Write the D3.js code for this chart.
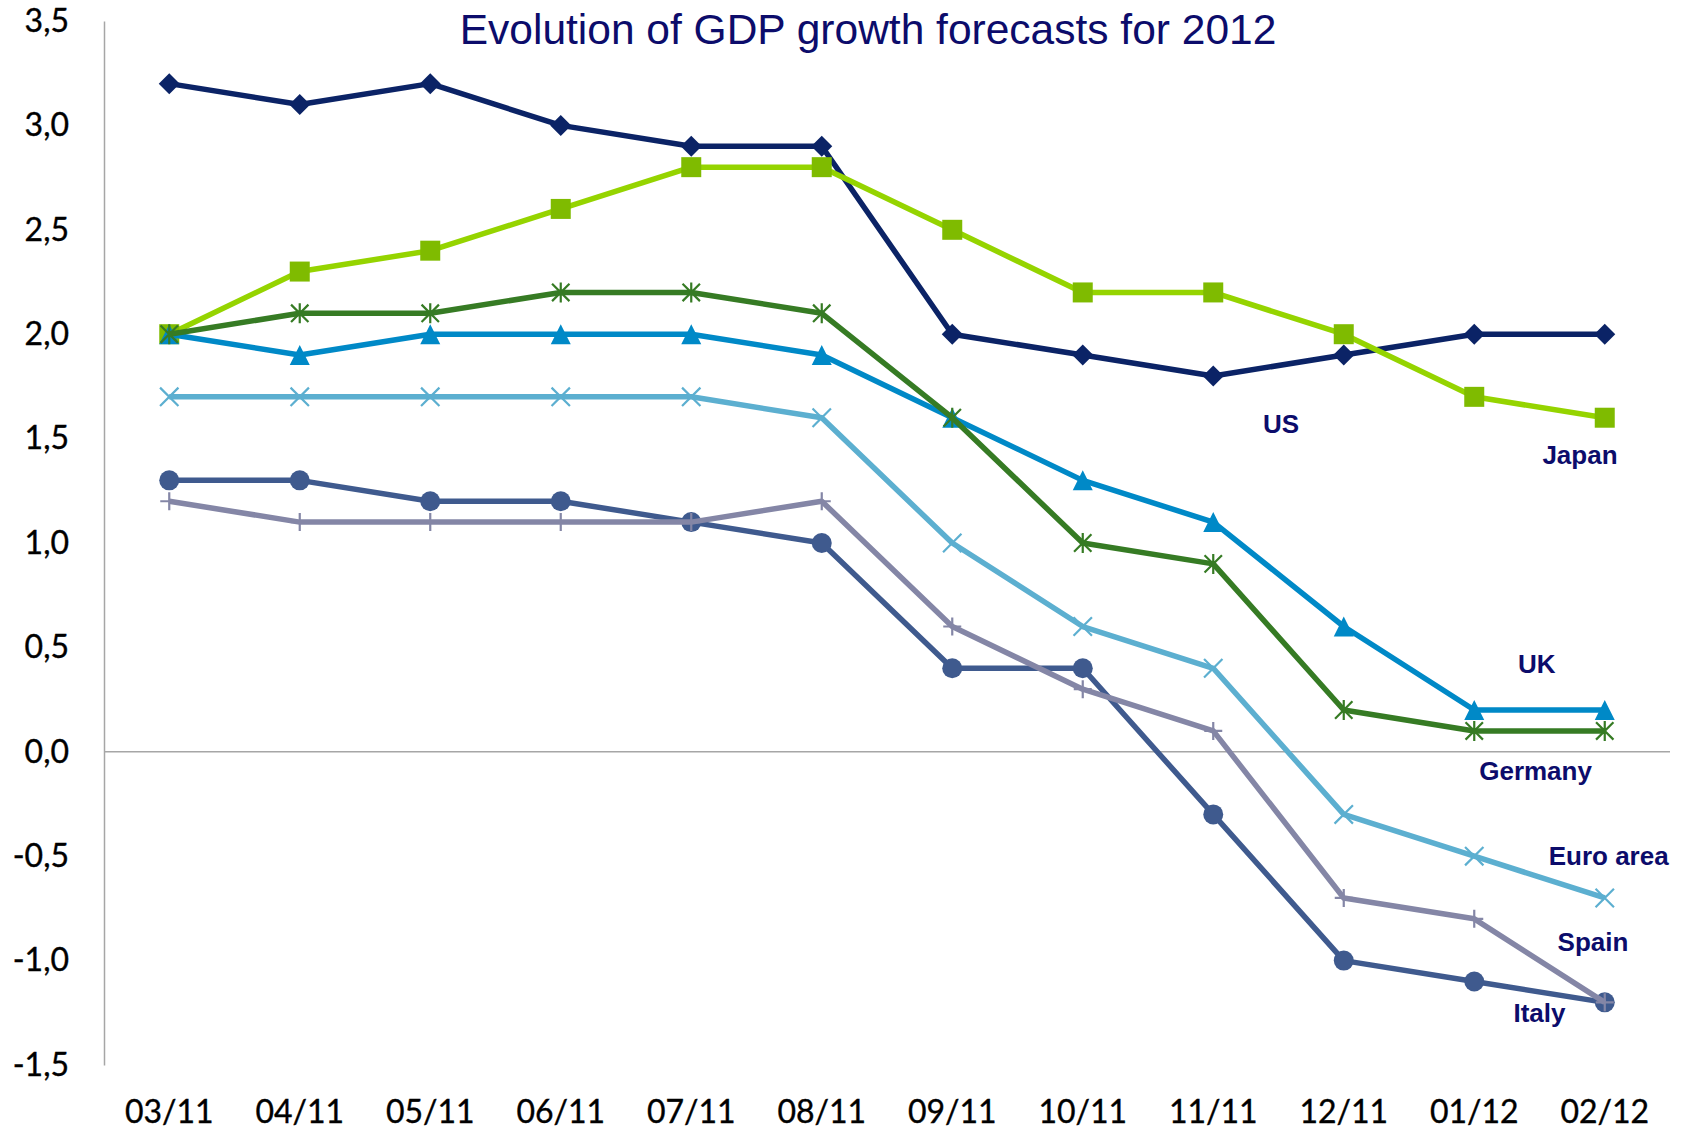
<!DOCTYPE html>
<html>
<head>
<meta charset="utf-8">
<script src="https://cdn.jsdelivr.net/npm/d3@7"></script>
<style>
  body { margin: 0; background: #ffffff; }
  svg { display: block; }
</style>
</head>
<body>
<svg id="chart" width="1684" height="1129"></svg>
<script>
// Survey month of each forecast
const categories = ["03/11", "04/11", "05/11", "06/11", "07/11", "08/11",
                    "09/11", "10/11", "11/11", "12/11", "01/12", "02/12"];

// Vertical axis ticks (% growth)
const yTicks = [-1.5, -1.0, -0.5, 0.0, 0.5, 1.0, 1.5, 2.0, 2.5, 3.0, 3.5];

// 2012 GDP growth forecasts, %
const usValues       = [3.2, 3.1, 3.2, 3.0, 2.9, 2.9, 2.0, 1.9, 1.8, 1.9, 2.0, 2.0];
const japanValues    = [2.0, 2.3, 2.4, 2.6, 2.8, 2.8, 2.5, 2.2, 2.2, 2.0, 1.7, 1.6];
const ukValues       = [2.0, 1.9, 2.0, 2.0, 2.0, 1.9, 1.6, 1.3, 1.1, 0.6, 0.2, 0.2];
const germanyValues  = [2.0, 2.1, 2.1, 2.2, 2.2, 2.1, 1.6, 1.0, 0.9, 0.2, 0.1, 0.1];
const euroAreaValues = [1.7, 1.7, 1.7, 1.7, 1.7, 1.6, 1.0, 0.6, 0.4, -0.3, -0.5, -0.7];
const italyValues    = [1.3, 1.3, 1.2, 1.2, 1.1, 1.0, 0.4, 0.4, -0.3, -1.0, -1.1, -1.2];
const spainValues    = [1.2, 1.1, 1.1, 1.1, 1.1, 1.2, 0.6, 0.3, 0.1, -0.7, -0.8, -1.2];

const seriesNames = ["US", "Japan", "UK", "Germany", "Euro area", "Italy", "Spain"];
const seriesValues = [usValues, japanValues, ukValues, germanyValues,
                      euroAreaValues, italyValues, spainValues];

const titleText = "Evolution of GDP growth forecasts for 2012";

// ---- styling -------------------------------------------------------------
const width = 1684, height = 1129;
const plot = { left: 104, right: 1670, top: 21, bottom: 1065 };

// Marker shapes, centred on their bounding box
const markers = {
  diamond: r => `M0,${-r}L${r},0L0,${r}L${-r},0Z`,
  square:  r => `M${-r},${-r}H${r}V${r}H${-r}Z`,
  triangle: r => `M0,${-r}L${r},${r}L${-r},${r}Z`,
  circle:  r => `M${r},0A${r},${r} 0 1,1 ${-r},0A${r},${r} 0 1,1 ${r},0Z`,
  asterisk: r => `M0,${-r}V${r}M${-r * 0.87},${-r * 0.87}L${r * 0.87},${r * 0.87}M${r * 0.87},${-r * 0.87}L${-r * 0.87},${r * 0.87}`,
  times:   r => `M${-r * 0.8},${-r * 0.8}L${r * 0.8},${r * 0.8}M${r * 0.8},${-r * 0.8}L${-r * 0.8},${r * 0.8}`,
  plus:    r => `M0,${-r}V${r}M${-r},0H${r}`
};

const seriesStyle = {
  "US":        { line: "#0b2366", fill: "#0b2366", marker: "diamond",  r: 10.5, filled: true,
                 label: { at: 8.52, v: 1.57 } },
  "Japan":     { line: "#95d400", fill: "#7fbb00", marker: "square",   r: 10, filled: true,
                 label: { at: 10.81, v: 1.42 } },
  "UK":        { line: "#0089c7", fill: "#0089c7", marker: "triangle", r: 10, filled: true,
                 label: { at: 10.48, v: 0.42 } },
  "Germany":   { line: "#367b24", fill: "#367b24", marker: "asterisk", r: 10, filled: false,
                 label: { at: 10.47, v: -0.09 } },
  "Euro area": { line: "#5cafd0", fill: "#5cafd0", marker: "times",    r: 11.5, filled: false,
                 label: { at: 11.03, v: -0.50 } },
  "Italy":     { line: "#3f5a8e", fill: "#3f5a8e", marker: "circle",   r: 10, filled: true,
                 label: { at: 10.50, v: -1.25 } },
  "Spain":     { line: "#8486a6", fill: "#8486a6", marker: "plus",     r: 9,  filled: false,
                 label: { at: 10.91, v: -0.91 } }
};

const labelColor = "#0c0c6b";
const axisColor = "#a6a6a6";
const tickFont = "Lato, 'Open Sans', sans-serif";
const tickSize = 32;

// ---- scales --------------------------------------------------------------
const x = d3.scaleBand().domain(categories).range([plot.left, plot.right]).padding(0);
const cx = c => x(c) + x.bandwidth() / 2;
// Fractional category position, used for placing series labels between points
const cxAt = i => cx(categories[0]) + i * x.step();

const y = d3.scaleLinear().domain([-1.5, 3.5]).range([plot.bottom, plot.top]);

const svg = d3.select("#chart");
svg.append("rect").attr("width", width).attr("height", height).attr("fill", "#ffffff");

const fmt = d => d.toFixed(1).replace(".", ",").replace("\u2212", "-");

// ---- axes ----------------------------------------------------------------
const yAxis = svg.append("g")
  .attr("transform", `translate(${plot.left},0)`)
  .call(d3.axisLeft(y).tickValues(yTicks).tickSize(0).tickPadding(35).tickFormat(fmt));
yAxis.select(".domain").attr("stroke", axisColor).attr("stroke-width", 1.5);
yAxis.selectAll("text")
  .attr("font-family", tickFont).attr("font-size", tickSize).attr("fill", "#000000")
  .attr("stroke", "#000000").attr("stroke-width", 0.35);

const xAxis = svg.append("g")
  .attr("transform", `translate(0,${plot.bottom})`)
  .call(d3.axisBottom(x).tickSize(0));
xAxis.select(".domain").remove();
xAxis.selectAll("text")
  .attr("y", 47).attr("dy", "0.35em")
  .attr("font-family", tickFont).attr("font-size", tickSize).attr("fill", "#000000")
  .attr("stroke", "#000000").attr("stroke-width", 0.35);

// zero line
svg.append("line")
  .attr("x1", plot.left).attr("x2", plot.right)
  .attr("y1", y(0)).attr("y2", y(0))
  .attr("stroke", axisColor).attr("stroke-width", 1.5);

// ---- series --------------------------------------------------------------
const line = d3.line()
  .x((d, i) => cx(categories[i]))
  .y(d => y(d));

seriesNames.forEach((name, k) => {
  const values = seriesValues[k];
  const st = seriesStyle[name];
  const g = svg.append("g").attr("class", "series");

  g.append("path")
    .datum(values)
    .attr("d", line)
    .attr("fill", "none")
    .attr("stroke", st.line)
    .attr("stroke-width", 5.5)
    .attr("stroke-linejoin", "round");

  g.selectAll("path.marker")
    .data(values)
    .join("path")
    .attr("class", "marker")
    .attr("transform", (d, i) => `translate(${cx(categories[i])},${y(d)})`)
    .attr("d", markers[st.marker](st.r))
    .attr("fill", st.filled ? st.fill : "none")
    .attr("stroke", st.filled ? "none" : st.fill)
    .attr("stroke-width", st.filled ? 0 : 2.2);
});

// series labels
seriesNames.forEach(name => {
  const lb = seriesStyle[name].label;
  svg.append("text")
    .attr("x", cxAt(lb.at))
    .attr("y", y(lb.v))
    .attr("dy", "0.35em")
    .attr("text-anchor", "middle")
    .attr("font-family", "'Liberation Sans', Arial, sans-serif")
    .attr("font-weight", "bold")
    .attr("font-size", 26)
    .attr("fill", labelColor)
    .text(name);
});

// ---- title ---------------------------------------------------------------
svg.append("text")
  .attr("x", 868)
  .attr("y", 29)
  .attr("dy", "0.35em")
  .attr("text-anchor", "middle")
  .attr("font-family", "'Liberation Sans', Arial, sans-serif")
  .attr("font-size", 42.5)
  .attr("fill", "#0c0c6b")
  .text(titleText);
</script>
</body>
</html>
